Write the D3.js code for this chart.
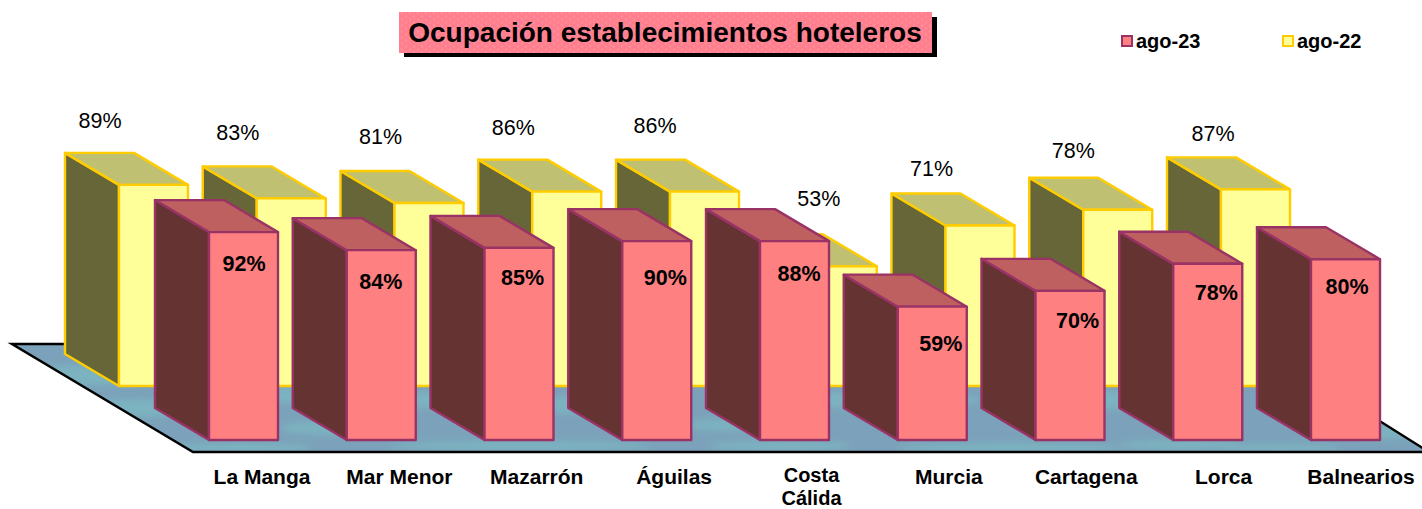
<!DOCTYPE html>
<html>
<head>
<meta charset="utf-8">
<script src="https://cdn.jsdelivr.net/npm/d3@7"></script>
<style>
html, body { margin: 0; padding: 0; background: #fff; overflow: hidden; }
text { font-family: "Liberation Sans", Arial, sans-serif; fill: #000; }
</style>
</head>
<body>
<svg id="chart" width="1422" height="509"></svg>
<script>
// chart data
const categories = ["La Manga", "Mar Menor", "Mazarrón", "Águilas", "Costa Cálida", "Murcia", "Cartagena", "Lorca", "Balnearios"];
const ago23 = [92, 84, 85, 90, 88, 59, 70, 78, 80];
const ago22 = [89, 83, 81, 86, 86, 53, 71, 78, 87];
// the pink bars are not all as tall as their label says (Águilas and Cartagena), so heights are kept apart
const ago23Heights = [92, 84, 85, 88, 88, 59, 66, 78, 80];
const seriesNames = ["ago-23", "ago-22"];

// hand placed label nudges (the original has them dragged around), px from the default spot
const nudge23 = [[0, 0], [-1, 0], [3, -2], [8, 5], [4, 1], [8, 5], [7, -2], [8, -3], [1, -4]];
const nudge22 = [[0, 0], [0, -1], [5, -2], [0, 0], [4, -2], [30, -3], [5, 7], [9, 5], [11, 9]];

const svg = d3.select("#chart");

// one scale for position, one for bar height
const x = d3.scaleBand().domain(categories).range([209, 209 + 9 * 137.75]);
const h = d3.scaleLinear().domain([0, 100]).range([0, 226]);
// the category names sit on a slightly tighter spacing than the bars
const labelX = d3.scalePoint().domain(categories).range([262, 1361]);

const faceW = 69;          // front face width
const depth = [-54, -32];  // how the side face goes back

const front = { shiftX: 0, base: 440 };       // pink row
const back = { shiftX: -90, base: 386 };      // yellow row

const defs = svg.append("defs");

// dotted fill of the title box
const pat = defs.append("pattern").attr("id", "dots")
    .attr("width", 8).attr("height", 6).attr("patternUnits", "userSpaceOnUse");
pat.append("rect").attr("width", 8).attr("height", 6).attr("fill", "#ff7f8e");
pat.append("circle").attr("cx", 2).attr("cy", 1.5).attr("r", 1.2).attr("fill", "#ff8d9b");
pat.append("circle").attr("cx", 6).attr("cy", 4.5).attr("r", 1.2).attr("fill", "#ff8d9b");

// floor colour, a bit cloudy
const blur = defs.append("filter").attr("id", "soft")
    .attr("x", "-20%").attr("y", "-50%").attr("width", "140%").attr("height", "200%");
blur.append("feGaussianBlur").attr("stdDeviation", 3);
defs.append("clipPath").attr("id", "floorClip").append("path")
    .attr("d", "M12,344 L193,452 L1429,452 L1248,344 Z");

const floorPath = "M12,344 L193,452 L1429,452 L1248,344 Z";
svg.append("path").attr("d", floorPath).attr("fill", "#7ba2ba");

const clouds = svg.append("g").attr("clip-path", "url(#floorClip)").attr("filter", "url(#soft)");
[[90, 375, 60, 10], [240, 448, 70, 5], [140, 408, 60, 9], [340, 428, 60, 7], [520, 446, 130, 5],
 [560, 405, 90, 8], [780, 446, 70, 5], [740, 425, 60, 6], [880, 400, 100, 8], [1010, 448, 110, 5], [1120, 400, 90, 9],
 [1180, 445, 60, 5], [1280, 448, 60, 4], [1385, 432, 30, 7], [300, 395, 60, 8], [430, 400, 40, 8]].forEach(c => {
    clouds.append("ellipse").attr("cx", c[0]).attr("cy", c[1]).attr("rx", c[2]).attr("ry", c[3]).attr("fill", "#7cb3c0");
});

// back, left and bottom edge of the floor
svg.append("path").attr("d", "M1429,452 L193,452 L12,344 L1248,344 M1378,420 L1429,452")
    .attr("fill", "none").attr("stroke", "#000").attr("stroke-width", 2.5);

// draws one row of 3d bars
function drawBars(values, row, colors) {
    const g = svg.append("g");
    categories.forEach((c, i) => {
        const x0 = x(c) + row.shiftX;
        const x1 = x0 + faceW;
        const top = row.base - h(values[i]);
        const [dx, dy] = depth;
        const pts = a => a.map(p => p.join(",")).join(" ");
        const bar = g.append("g")
            .attr("stroke", colors.line).attr("stroke-width", 2.4).attr("stroke-linejoin", "round");
        bar.append("polygon") // left side
            .attr("points", pts([[x0, top], [x0 + dx, top + dy], [x0 + dx, row.base + dy], [x0, row.base]]))
            .attr("fill", colors.side);
        bar.append("polygon") // top
            .attr("points", pts([[x0, top], [x0 + dx, top + dy], [x1 + dx, top + dy], [x1, top]]))
            .attr("fill", colors.top);
        bar.append("rect") // front
            .attr("x", x0).attr("y", top).attr("width", faceW).attr("height", h(values[i]))
            .attr("fill", colors.face);
    });
}

drawBars(ago22, back, { face: "#ffff99", side: "#666639", top: "#c0c072", line: "#ffcc00" });
drawBars(ago23Heights, front, { face: "#ff8080", side: "#663333", top: "#bf6060", line: "#993366" });

// value labels of the back row
svg.append("g").selectAll("text").data(ago22).join("text")
    .attr("x", (d, i) => x(categories[i]) + back.shiftX - 19 + nudge22[i][0])
    .attr("y", (d, i) => back.base - h(d) - 57 + nudge22[i][1])
    .attr("text-anchor", "middle").attr("font-size", 21.5)
    .text(d => d + "%");

// value labels of the front row
svg.append("g").selectAll("text").data(ago23).join("text")
    .attr("x", (d, i) => x(categories[i]) + 35 + nudge23[i][0])
    .attr("y", (d, i) => front.base - h(ago23Heights[i]) + 39 + nudge23[i][1])
    .attr("text-anchor", "middle").attr("font-size", 21.5).attr("font-weight", "bold")
    .text(d => d + "%");

// category labels, wrapped on the space only for Costa Cálida
// (that one is a touch smaller so both lines fit above the bottom of the picture)
categories.forEach(c => {
    const wrapped = c === "Costa Cálida";
    const lines = wrapped ? c.split(" ") : [c];
    const t = svg.append("text")
        .attr("text-anchor", "middle").attr("font-size", wrapped ? 20 : 21).attr("font-weight", "bold")
        .attr("x", labelX(c)).attr("y", wrapped ? 482 : 484);
    lines.forEach((l, j) => {
        t.append("tspan").attr("x", labelX(c)).attr("dy", j ? 22.5 : 0).text(l);
    });
});

// title box
svg.append("rect").attr("x", 404).attr("y", 17).attr("width", 533).attr("height", 40).attr("fill", "#000");
svg.append("rect").attr("x", 399).attr("y", 12).attr("width", 533).attr("height", 41).attr("fill", "url(#dots)");
svg.append("text").attr("x", 665).attr("y", 42)
    .attr("text-anchor", "middle").attr("font-size", 28).attr("font-weight", "bold")
    .text("Ocupación establecimientos hoteleros");

// legend
const legend = d3.scaleOrdinal().domain(seriesNames).range([1122, 1283]);
const legendFill = d3.scaleOrdinal().domain(seriesNames).range(["#ff8080", "#ffff99"]);
const legendLine = d3.scaleOrdinal().domain(seriesNames).range(["#993366", "#ffcc00"]);
seriesNames.forEach(s => {
    svg.append("rect").attr("x", legend(s)).attr("y", 36).attr("width", 10).attr("height", 10)
        .attr("fill", legendFill(s)).attr("stroke", legendLine(s)).attr("stroke-width", 2);
    svg.append("text").attr("x", legend(s) + 14).attr("y", 48)
        .attr("font-size", 20).attr("font-weight", "bold").text(s);
});
</script>
</body>
</html>
